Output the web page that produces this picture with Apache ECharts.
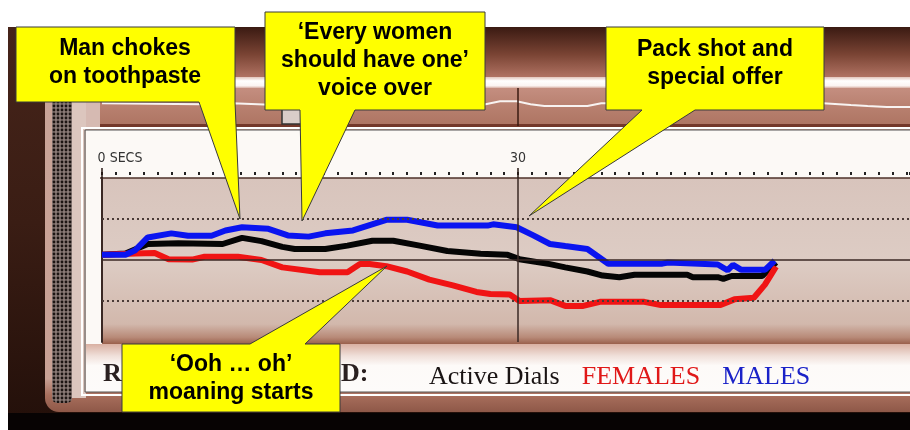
<!DOCTYPE html>
<html>
<head>
<meta charset="utf-8">
<script src="https://cdn.jsdelivr.net/npm/echarts@6/dist/echarts.min.js"></script>
<style>
html, body { margin: 0; padding: 0; background: #fff; }
#main { width: 910px; height: 430px; }
</style>
</head>
<body>
<div id="main"></div>
<script>
// seconds / dial score (-100..100, 0 = neutral)
var dialSecs = [0, 1.7, 3.3, 5.5, 8.7, 10.1, 11.5, 13.0, 13.9, 16.1, 17.7, 19.5, 21.0, 22.9, 24.9, 27.3, 29.2, 30.1, 32.3, 33.4, 35.0, 36.1, 37.3, 38.4, 42.2, 42.6, 44.4, 44.8, 45.4, 47.6, 48.6];
var dialVals = [6.5, 8, 19.5, 20.5, 19.5, 27, 23, 16, 13.5, 13.5, 17.5, 23.5, 23.5, 17.5, 11, 7.5, 6.5, 1, -5, -9, -14, -19, -21, -18, -18, -21, -21, -23, -19.5, -19.5, -3];

var femaleSecs = [0, 2.4, 3.8, 4.8, 6.5, 7.4, 9.8, 11.5, 13.0, 15.7, 17.7, 18.6, 19.3, 20.5, 22.0, 23.6, 25.3, 27.0, 28.0, 29.4, 30.1, 32.3, 33.4, 34.7, 35.9, 39.1, 40.3, 44.6, 45.6, 47.0, 47.8, 48.6];
var femaleVals = [6.5, 8, 8.5, 1, 0.5, 4, 4, 0, -9, -15, -15, -5, -5, -7.5, -14, -24, -31, -39, -41.5, -42, -50, -49, -56, -56, -51, -51, -55, -55, -48, -46, -30, -8];

var maleSecs = [0, 1.7, 2.4, 3.3, 5.0, 6.2, 7.9, 8.9, 10.1, 12.0, 13.4, 14.9, 16.1, 18.1, 20.5, 22.0, 24.2, 27.8, 28.2, 29.9, 31.1, 32.3, 33.4, 35.0, 36.5, 40.4, 40.8, 44.4, 45.1, 45.5, 46.1, 47.8, 48.5];
var maleVals = [6.5, 6.5, 12, 27.5, 32.5, 29.5, 29.5, 36, 40, 38, 30, 28.5, 32.5, 36, 49, 49, 42, 42, 43.5, 40, 30, 19.5, 17, 13.5, -4.5, -4.5, -3, -5.5, -12.5, -6, -12, -12, -1];

// overview strip (top), 0..100
var overviewSecs = [0, 7.1, 8.7, 9.4, 12.6, 14.3, 20.0, 26.0, 28.7, 29.9, 30.9, 31.9, 35.0, 36.0, 52.0, 54.0, 55.2, 56.6, 58.3];
var overviewVals = [60, 57.5, 57.5, 60, 55, 52, 45, 45, 65, 65, 57.5, 52.5, 52.5, 60, 60, 55, 52.5, 50, 50];

var legendNames = ['Active Dials', 'FEMALES', 'MALES'];
var majorSecs = [0, 30];
var secsMax = 58.26;   // visible part of the time window

function pairs(ts, vs) {
    return ts.map(function (t, i) { return [t, vs[i]]; });
}

var myChart = echarts.init(document.getElementById('main'));
var G = echarts.graphic;

// grille pattern for the speaker strip
var pat = document.createElement('canvas');
pat.width = 4; pat.height = 4;
var pc = pat.getContext('2d');
pc.fillStyle = '#8a7a76'; pc.fillRect(0, 0, 4, 4);
pc.fillStyle = '#1c1412';
pc.beginPath(); pc.arc(2, 2, 1.4, 0, Math.PI * 2); pc.fill();

function vgrad(stops) {
    return new G.LinearGradient(0, 0, 0, 1, stops.map(function (s) { return { offset: s[0], color: s[1] }; }));
}

function callout(points, cx, cy, text) {
    return [
        { type: 'polygon', z: 100, shape: { points: points },
          style: { fill: '#ffff00', stroke: '#3a3a3a', lineWidth: 1 } },
        { type: 'text', z: 101, x: cx, y: cy,
          style: { text: text, fill: '#000', align: 'center', verticalAlign: 'middle',
                   fontFamily: '"Liberation Sans", Arial, sans-serif', fontWeight: 'bold',
                   fontSize: 23, lineHeight: 28 } }
    ];
}

var frame = [
    // wood surround
    { type: 'rect', z: -100, shape: { x: 8, y: 27, width: 902, height: 390 },
      style: { fill: vgrad([[0, '#46241a'], [0.5, '#3a1d14'], [1, '#24100a']]) } },
    { type: 'rect', z: -99, shape: { x: 8, y: 413, width: 902, height: 17 }, style: { fill: '#070303' } },
    // top band
    { type: 'rect', z: -98, shape: { x: 45, y: 27, width: 865, height: 50 },
      style: { fill: vgrad([[0, '#3a1a12'], [0.55, '#7a4434'], [1, '#b07262']]) } },
    // bevel
    { type: 'rect', z: -98, shape: { x: 45, y: 77, width: 900, height: 335, r: [0, 0, 0, 14] },
      style: { fill: vgrad([[0, '#c9a498'], [0.9, '#c8a094'], [0.95, '#a86e5c'], [1, '#8e5848']]) } },
    { type: 'rect', z: -97, shape: { x: 72, y: 77, width: 838, height: 11 },
      style: { fill: vgrad([[0, '#e2c4ba'], [0.35, '#ffffff'], [0.8, '#fbf4f2'], [1, '#d8b0a4']]) } },
    // grille
    { type: 'rect', z: -97, shape: { x: 52, y: 92, width: 20, height: 311, r: 5 },
      style: { fill: { image: pat, repeat: 'repeat' } } },
    { type: 'rect', z: -97, shape: { x: 72, y: 88, width: 14, height: 310 }, style: { fill: '#dcc6be' } },
    // overview strip bg
    { type: 'rect', z: -96, shape: { x: 86, y: 88, width: 14, height: 40 }, style: { fill: '#d6bab2' } },
    { type: 'rect', z: -96, shape: { x: 100, y: 88, width: 810, height: 38 },
      style: { fill: vgrad([[0, '#c48e80'], [0.5, '#b8806f'], [1, '#ad7462']]) } },
    { type: 'rect', z: -95, shape: { x: 100, y: 124, width: 810, height: 5 }, style: { fill: '#74382a' } },
    { type: 'rect', z: -95, shape: { x: 282, y: 107, width: 21, height: 17 },
      style: { fill: '#d9cdc9', stroke: '#333', lineWidth: 1.5 } },
    // cream panel
    { type: 'rect', z: -96, shape: { x: 86, y: 130, width: 824, height: 262 }, style: { fill: '#fcf9f6' } },
    // plot background
    { type: 'rect', z: -95, shape: { x: 102, y: 178, width: 808, height: 166 },
      style: { fill: vgrad([[0, '#d8c4bc'], [0.5, '#ddccc4'], [0.88, '#d2b8ac'], [0.96, '#b88a78'], [1, '#9a604c']]) } },
    { type: 'line', z: -94, shape: { x1: 100, y1: 178, x2: 910, y2: 178 }, style: { stroke: '#4e3028', lineWidth: 1.5 } },
    // legend band
    { type: 'rect', z: -95, shape: { x: 86, y: 344, width: 824, height: 48 },
      style: { fill: vgrad([[0, '#d9b0a2'], [0.25, '#f0e0da'], [0.45, '#fdfaf8'], [1, '#fdfbfa']]) } },
    { type: 'rect', z: -94, shape: { x: 85, y: 130, width: 840, height: 262 },
      style: { fill: 'none', stroke: '#555', lineWidth: 1 } },
    { type: 'rect', z: -94, shape: { x: 82, y: 128, width: 846, height: 267 },
      style: { fill: 'none', stroke: '#ffffff', lineWidth: 2 } },
    // legend caption (partly covered)
    { type: 'text', z: 5, x: 103, y: 374,
      style: { text: 'R', fill: '#2a2020', verticalAlign: 'middle', fontFamily: '"Liberation Serif", serif', fontWeight: 'bold', fontSize: 26 } },
    { type: 'text', z: 5, x: 341, y: 374,
      style: { text: 'D:', fill: '#2a2020', verticalAlign: 'middle', fontFamily: '"Liberation Serif", serif', fontWeight: 'bold', fontSize: 26 } }
];

var callouts = [].concat(
    callout([[16, 27], [235, 27], [235, 102], [240, 219], [199, 102], [16, 102]], 125, 63, 'Man chokes\non toothpaste'),
    callout([[265, 12], [485, 12], [485, 110], [355, 110], [302, 221], [300, 110], [265, 110]], 375, 61, '‘Every women\nshould have one’\nvoice over'),
    callout([[606, 27], [824, 27], [824, 110], [695, 110], [529, 216], [642, 110], [606, 110]], 715, 64, 'Pack shot and\nspecial offer'),
    callout([[122, 344], [250, 344], [387, 266], [305, 344], [340, 344], [340, 412], [122, 412]], 231, 379, '‘Ooh … oh’\nmoaning starts')
);

var option = {
    backgroundColor: '#ffffff',
    animation: false,
    grid: [
        { left: 102, top: 178, right: 0, height: 164 },
        { left: 102, top: 88, right: 0, height: 38 }
    ],
    legend: {
        left: 418,
        top: 359,
        itemGap: 16,
        itemWidth: 0,
        itemHeight: 0,
        selectedMode: false,
        textStyle: { fontFamily: '"Liberation Serif", "Times New Roman", serif', fontSize: 26 },
        data: [
            { name: legendNames[0], textStyle: { color: '#1a1414' } },
            { name: legendNames[1], textStyle: { color: '#e01818' } },
            { name: legendNames[2], textStyle: { color: '#1a22c8' } }
        ]
    },
    xAxis: [
        {
            type: 'value', gridIndex: 0, position: 'top', min: 0, max: secsMax, interval: 1, offset: 3,
            axisLine: { show: false, onZero: false },
            axisTick: { show: true, length: 3, lineStyle: { color: '#222', width: 2 } },
            axisLabel: { show: false },
            splitLine: { show: false }
        },
        {
            type: 'value', gridIndex: 0, position: 'top', min: 0, max: secsMax,
            axisLine: { show: false, onZero: false },
            axisTick: { show: true, length: 10, customValues: majorSecs, lineStyle: { color: '#2a1a16', width: 1.5 } },
            axisLabel: {
                show: true, margin: 13, color: '#333', customValues: majorSecs,
                fontFamily: '"DejaVu Sans Condensed", "DejaVu Sans", sans-serif', fontSize: 14,
                formatter: function (v) {
                    return v === 0 ? '{a|0 SECS}' : String(v);
                },
                rich: { a: { padding: [0, 0, 0, 36], fontFamily: '"DejaVu Sans Condensed", "DejaVu Sans", sans-serif', fontSize: 14, color: '#333' } }
            },
            splitLine: { show: false }
        },
        { type: 'value', gridIndex: 1, min: 0, max: secsMax, show: false }
    ],
    yAxis: [
        {
            type: 'value', gridIndex: 0, min: -100, max: 100, interval: 50,
            axisLine: { show: true, onZero: false, lineStyle: { color: '#3a2824', width: 2 } },
            axisTick: { show: false },
            axisLabel: { show: false },
            splitLine: { show: false }
        },
        { type: 'value', gridIndex: 1, min: 0, max: 100, show: false }
    ],
    series: [
        {
            name: legendNames[0], type: 'line', xAxisIndex: 0, yAxisIndex: 0,
            data: pairs(dialSecs, dialVals), showSymbol: false, color: '#050505',
            lineStyle: { width: 6, color: '#050505' },
            markLine: {
                silent: true, symbol: 'none', label: { show: false },
                lineStyle: { color: '#3a2824', width: 1.5, type: 'solid' },
                data: [
                    { yAxis: 50, lineStyle: { type: [2, 3], width: 2, color: '#4a3a36' } },
                    { yAxis: -50, lineStyle: { type: [2, 3], width: 2, color: '#4a3a36' } },
                    { yAxis: 0 },
                    { xAxis: 30 }
                ]
            }
        },
        {
            name: legendNames[1], type: 'line', xAxisIndex: 0, yAxisIndex: 0,
            data: pairs(femaleSecs, femaleVals), showSymbol: false, color: '#f01414',
            lineStyle: { width: 6, color: '#f01414' }
        },
        {
            name: legendNames[2], type: 'line', xAxisIndex: 0, yAxisIndex: 0,
            data: pairs(maleSecs, maleVals), showSymbol: false, color: '#0a14f0',
            lineStyle: { width: 6, color: '#0a14f0' }
        },
        {
            name: 'overview', type: 'line', xAxisIndex: 2, yAxisIndex: 1,
            data: pairs(overviewSecs, overviewVals), showSymbol: false,
            lineStyle: { width: 2, color: 'rgba(255,255,255,0.9)' },
            markLine: {
                silent: true, symbol: 'none', label: { show: false },
                lineStyle: { color: '#3a1a10', width: 1.5, type: 'solid' },
                data: [{ xAxis: 30 }]
            }
        }
    ],
    graphic: { elements: frame.concat(callouts) }
};

myChart.setOption(option);
</script>
</body>
</html>
